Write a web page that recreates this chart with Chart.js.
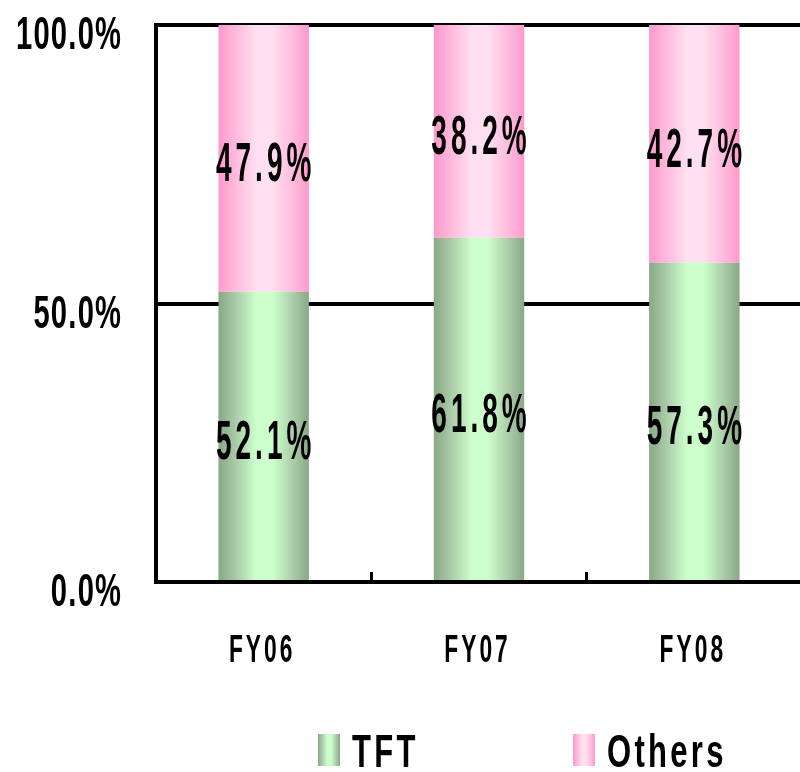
<!DOCTYPE html>
<html>
<head>
<meta charset="utf-8">
<script src="https://cdn.jsdelivr.net/npm/chart.js@4.4.1/dist/chart.umd.min.js"></script>
<style>
  html, body { margin: 0; padding: 0; background: #fff; overflow: hidden; }
  #wrap { width: 810px; height: 772px; position: relative; }
</style>
</head>
<body>
<div id="wrap"><canvas id="c" width="810" height="772"></canvas></div>
<script>
// Share of sales by product type, per fiscal year (percent)
const categories = ['FY06', 'FY07', 'FY08'];
const tftShare = [52.1, 61.8, 57.3];
const othersShare = [47.9, 38.2, 42.7];
const seriesNames = ['TFT', 'Others'];
const yTickValues = [0, 50, 100];

const BAR_PCT = 0.42;
const FONT = "'Liberation Sans', Arial, sans-serif";

// Cylinder-like shading: darker edges, light middle
const greenStops = ['#88a886', '#a9c9a6', '#ccffcc', '#ccffcc', '#a9c9a6', '#88a886'];
const pinkStops = ['#ff99cc', '#ffb8dc', '#ffdff0', '#ffdff0', '#ffb8dc', '#ff99cc'];
const stopPos = [0, 0.18, 0.42, 0.6, 0.84, 1];

function makeGradient(ctx, x0, x1, stops) {
  const g = ctx.createLinearGradient(x0, 0, x1, 0);
  stops.forEach((col, i) => g.addColorStop(stopPos[i], col));
  return g;
}

function barFill(stops) {
  return (c) => {
    const chart = c.chart;
    const xs = chart.scales && chart.scales.x;
    if (!chart.chartArea || !xs || c.dataIndex == null) return stops[2];
    const cx = xs.getPixelForValue(c.dataIndex);
    const half = (xs.width / categories.length) * BAR_PCT / 2;
    return makeGradient(chart.ctx, cx - half, cx + half, stops);
  };
}

// Horizontally condensed, optionally letter-spaced text
function condensedText(ctx, text, x, y, font, sx, align, spacing) {
  ctx.save();
  ctx.font = font;
  ctx.fillStyle = '#000';
  ctx.textBaseline = 'alphabetic';
  ctx.textAlign = 'left';
  const sp = spacing || 0;
  if ('letterSpacing' in ctx) ctx.letterSpacing = sp + 'px';
  const w = (ctx.measureText(text).width - sp) * sx;
  let left = x;
  if (align === 'center') left = x - w / 2;
  else if (align === 'right') left = x - w;
  ctx.translate(left, y);
  ctx.scale(sx, 1);
  ctx.fillText(text, 0, 0);
  ctx.restore();
}

const textPlugin = {
  id: 'textLayer',
  afterDraw(chart) {
    const ctx = chart.ctx;
    const ys = chart.scales.y;
    const xs = chart.scales.x;

    // y tick labels
    ys.ticks.forEach(t => {
      const y = ys.getPixelForValue(t.value);
      condensedText(ctx, t.value.toFixed(1) + '%', 121, y + 24, 'bold 47px ' + FONT, 0.62, 'right', 2);
    });

    // category labels
    categories.forEach((lab, i) => {
      const x = xs.getPixelForValue(i);
      condensedText(ctx, lab, x - 3, 662, 'bold 38px ' + FONT, 0.6, 'center', 5);
    });

    // value labels in each segment
    chart.data.datasets.forEach((ds, di) => {
      const meta = chart.getDatasetMeta(di);
      meta.data.forEach((el, i) => {
        const cy = (el.y + el.base) / 2;
        condensedText(ctx, ds.data[i].toFixed(1) + '%', el.x, cy + 23, 'bold 56px ' + FONT, 0.5, 'center', 8);
      });
    });

    // legend
    const items = [
      { name: seriesNames[0], stops: greenStops, x: 318 },
      { name: seriesNames[1], stops: pinkStops, x: 573 }
    ];
    items.forEach(it => {
      ctx.save();
      ctx.fillStyle = makeGradient(ctx, it.x, it.x + 22, it.stops);
      ctx.fillRect(it.x, 734, 22, 32);
      ctx.restore();
      condensedText(ctx, it.name, it.x + 34, 767, 'bold 47px ' + FONT, 0.66, 'left', 5);
    });
  }
};

new Chart(document.getElementById('c'), {
  type: 'bar',
  data: {
    labels: categories,
    datasets: [
      { label: seriesNames[0], data: tftShare, backgroundColor: barFill(greenStops), borderWidth: 0 },
      { label: seriesNames[1], data: othersShare, backgroundColor: barFill(pinkStops), borderWidth: 0 }
    ]
  },
  options: {
    responsive: false,
    animation: false,
    devicePixelRatio: 1,
    categoryPercentage: 1,
    barPercentage: BAR_PCT,
    layout: { padding: { left: 156, right: 8, top: 25, bottom: 190 } },
    plugins: { legend: { display: false }, tooltip: { enabled: false } },
    scales: {
      x: {
        stacked: true,
        grid: { offset: true, drawOnChartArea: false, drawTicks: true, tickLength: -10, color: '#000', lineWidth: 3 },
        border: { display: true, color: '#000', width: 4 },
        ticks: { display: false },
        afterFit(s) { s.height = 0; }
      },
      y: {
        stacked: true,
        min: 0,
        max: 100,
        afterBuildTicks(s) { s.ticks = yTickValues.map(v => ({ value: v })); },
        ticks: { display: false },
        grid: { color: '#000', lineWidth: 4, drawTicks: false },
        border: { display: true, color: '#000', width: 4 },
        afterFit(s) { s.width = 0; }
      }
    }
  },
  plugins: [textPlugin]
});
</script>
</body>
</html>
